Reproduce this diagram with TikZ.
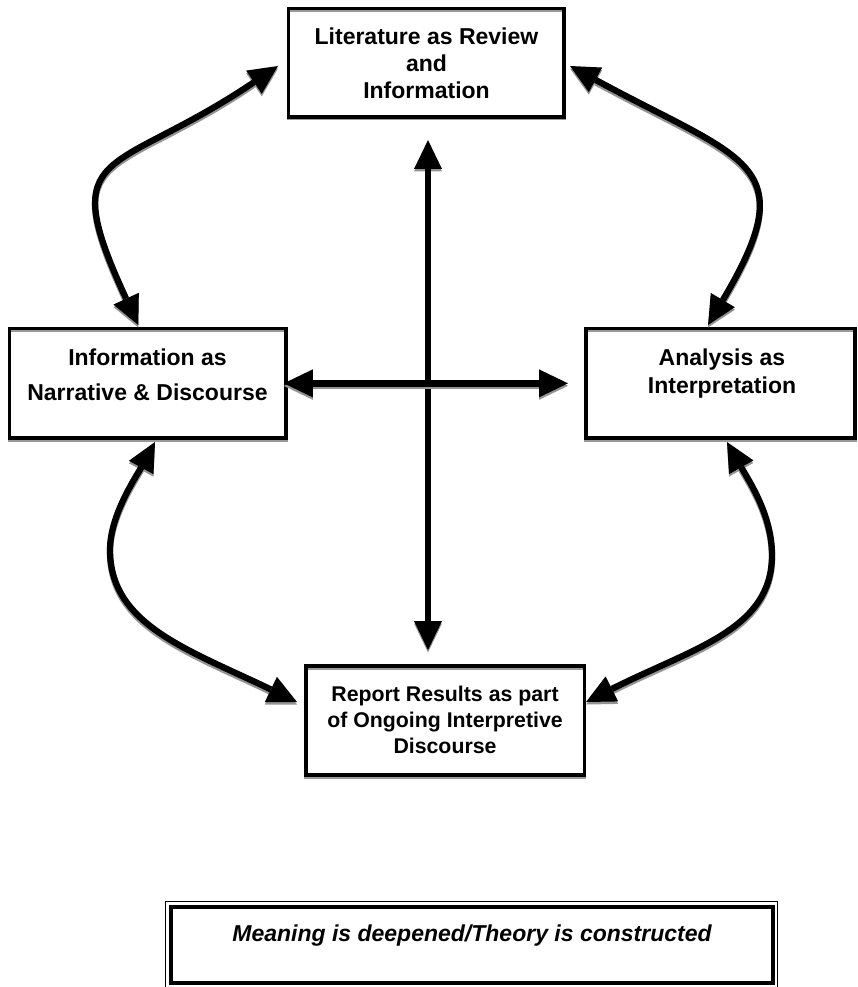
\documentclass[tikz,border=0pt]{standalone}
\usepackage{fontspec}
\setmainfont{Liberation Sans}
\usetikzlibrary{arrows.meta}
\newcommand\shdraw[2]{%
  \draw[#1,draw=black!42,transform canvas={yshift=-2.5pt}] #2;
  \draw[#1] #2;}
\newcommand\stacklines[3]{\fontsize{#1}{#2}\selectfont\begin{tabular}[t]{@{}c@{}}#3\end{tabular}}
\begin{document}
\begin{tikzpicture}[x=1pt,y=-1pt,line join=miter,
  >={Triangle[length=29pt,width=28pt,line width=0pt]},
  box/.style={draw=black, line width=3.4pt, inner sep=0pt, outer sep=0pt,
    preaction={draw=black!40, transform canvas={yshift=-1.8pt}}},
  lbl/.style={anchor=base, inner sep=0pt, font=\bfseries},
  straight/.style={<->, line width=6.8pt},
  curved/.style={<->, line width=6.3pt}]
\useasboundingbox (0,0) rectangle (858,987);

% boxes
\node[box, minimum width=275.3pt, minimum height=108.7pt] (lit) at (426.35,62.65) {};
\node[box, minimum width=276.3pt, minimum height=109.3pt] (info) at (147.65,383.35) {};
\node[box, minimum width=269pt, minimum height=109.3pt] (ana) at (720.5,383.35) {};
\node[box, minimum width=278.7pt, minimum height=109pt] (rep) at (445.35,720.5) {};
\node[draw=black, line width=4.3pt, inner sep=0pt, outer sep=0pt,
      minimum width=602pt, minimum height=76pt] (mean) at (472,945) {};
\draw[line width=1.3pt] ([shift={(-5.3,-5.3)}]mean.north west) coordinate (mo1)
  rectangle ([shift={(4.5,5)}]mean.south east) coordinate (mo2);

% texts
\node[lbl] (litT) at (426.5,45) {\stacklines{23}{26.7}{Literature as Review\\and\\Information}};
\node[lbl] (infoT) at (147.5,365) {\stacklines{23}{35.7}{Information as\\Narrative \& Discourse}};
\node[lbl] (anaT) at (722,365) {\stacklines{23}{28}{Analysis as\\Interpretation}};
\node[lbl] (repT) at (445,701.7) {\stacklines{21.3}{25.7}{Report Results as part\\of Ongoing Interpretive\\Discourse}};
\node[lbl] (meanT) at (472,941) {\fontsize{23}{27}\selectfont\itshape Meaning is deepened/Theory is constructed};

% straight arrows
\shdraw{straight, shorten <=23pt, shorten >=16pt}{([xshift=1.65pt]lit.south) -- ([xshift=1.65pt]lit.south |- rep.north)}
\shdraw{straight, line width=7pt, shorten <=-2pt, shorten >=18pt}{(info.east) -- (ana.west)}

% curved arrows
\shdraw{curved}{([shift={(-10.7,3.35)}]lit.west) .. controls (112,178) and (54,143) .. ([shift={(-9.35,-3.7)}]info.north)}
\shdraw{curved}{([shift={(6,3.35)}]lit.east) .. controls (745,161) and (805,162) .. ([shift={(-12.5,-3.7)}]ana.north)}
\shdraw{curved}{([shift={(7.35,4)}]info.south) .. controls (136,477) and (110,515) .. (110,550) .. controls (110,625) and (189,650) .. ([shift={(-9,36)}]rep.north west)}
\shdraw{curved}{([shift={(6.5,4)}]ana.south) .. controls (749,481) and (772,515) .. (772,555) .. controls (772,630) and (693,648) .. ([shift={(1.3,36)}]rep.north east)}
\end{tikzpicture}
\end{document}
